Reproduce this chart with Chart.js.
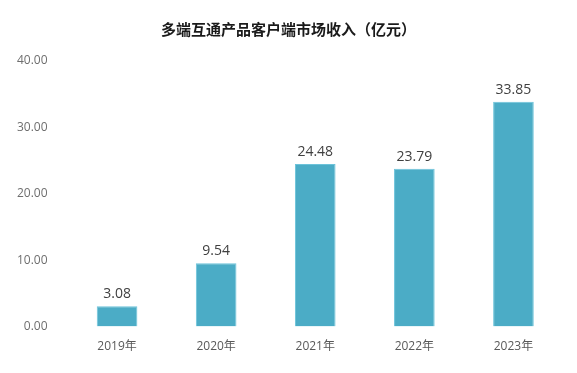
<!DOCTYPE html>
<html>
  <head>
    <title>多端互通产品客户端市场收入</title>
    <meta charset="UTF-8">
    <style>
      html, body {
        margin: 0;
        padding: 0;
        background: #fff;
      }
      .canvas {
        width: 577px;
        height: 373px;
        position: relative;
      }
    </style>
  </head>
  <body>
    <div class="canvas">
      <canvas id="canvas"></canvas>
    </div>
    <script src="https://cdn.jsdelivr.net/npm/chart.js@4/dist/chart.umd.min.js"></script>
    <script>
    // data
    var years = ['2019年', '2020年', '2021年', '2022年', '2023年'];
    var revenue = [3.08, 9.54, 24.48, 23.79, 33.85];
    var yTicks = [0, 10, 20, 30, 40];

    var fontFamily = "'Open Sans', 'Noto Sans CJK SC', sans-serif";

    // draws the value above each bar
    var valueLabels = {
        id: 'valueLabels',
        afterDatasetsDraw: function(chart) {
            var ctx = chart.ctx;
            var meta = chart.getDatasetMeta(0);
            ctx.save();
            ctx.font = '14px ' + fontFamily;
            ctx.fillStyle = '#404040';
            ctx.textAlign = 'center';
            ctx.textBaseline = 'bottom';
            meta.data.forEach(function(bar, i) {
                ctx.fillText(revenue[i].toFixed(2), bar.x, bar.y - 5);
            });
            ctx.restore();
        }
    };

    var ctx = document.getElementById('canvas').getContext('2d');
    var chart = new Chart(ctx, {
        type: 'bar',
        data: {
            labels: years,
            datasets: [{
                data: revenue,
                backgroundColor: '#4BACC6',
                borderColor: '#6cc3da',
                borderWidth: 1,
                barPercentage: 0.41,
                categoryPercentage: 1
            }]
        },
        options: {
            responsive: true,
            maintainAspectRatio: false,
            animation: false,
            layout: {
                padding: { left: 14, right: 14, top: 0, bottom: 14 }
            },
            plugins: {
                legend: { display: false },
                tooltip: { enabled: false },
                title: {
                    display: true,
                    text: '多端互通产品客户端市场收入（亿元）',
                    color: '#1a1a1a',
                    font: { family: "'Noto Sans CJK SC', sans-serif", size: 15, weight: 'bold' },
                    padding: { top: 20, bottom: 23 }
                }
            },
            scales: {
                x: {
                    grid: { display: false },
                    border: { display: false },
                    ticks: {
                        color: '#595959',
                        padding: 5,
                        font: { family: fontFamily, size: 12 }
                    }
                },
                y: {
                    min: yTicks[0],
                    max: yTicks[yTicks.length - 1],
                    grid: { display: false },
                    border: { display: false },
                    afterBuildTicks: function(scale) {
                        scale.ticks = yTicks.map(function(v) { return { value: v }; });
                    },
                    afterFit: function(scale) {
                        scale.width = 53.5;
                    },
                    ticks: {
                        color: '#6e6e6e',
                        padding: 12,
                        font: { family: fontFamily, size: 12 },
                        callback: function(value) {
                            return Number(value).toFixed(2);
                        }
                    }
                }
            }
        },
        plugins: [valueLabels]
    });
    </script>
  </body>
</html>
